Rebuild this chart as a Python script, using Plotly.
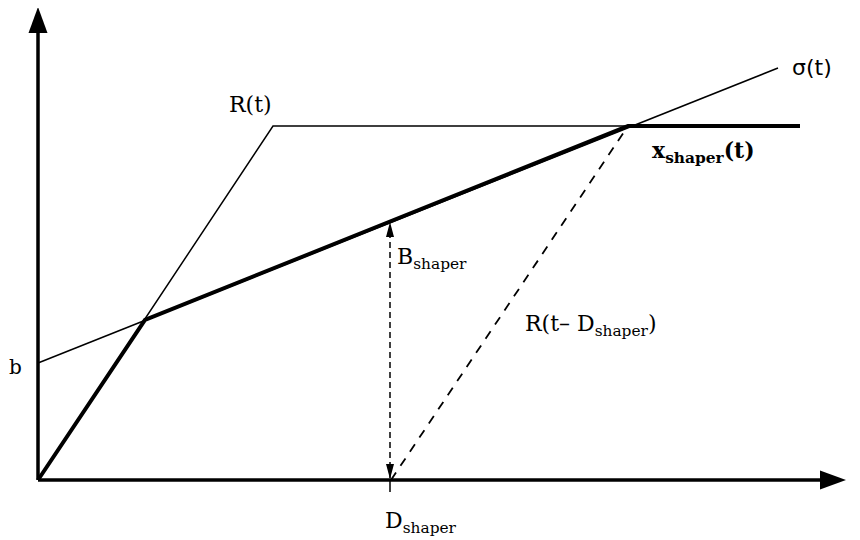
import plotly.graph_objects as go

# Curves of the shaper diagram (t on x, amount on y)
rate_t = [0, 235, 762]
rate_y = [0, 354, 354]
sigma_t = [0, 740]
sigma_y = [117, 412]
shaper_t = [0, 107, 590, 762]
shaper_y = [0, 160, 354, 354]
delayed_t = [353, 590]
delayed_y = [0, 354]
d_shaper = 352
b_top = 258
axis_t_end = 808
axis_y_end = 473

SERIF = "DejaVu Serif"


def head(tip_x, tip_y, dx, dy, length, width):
    # filled triangle pointing along (dx, dy)
    bx, by = tip_x - dx * length, tip_y - dy * length
    px, py = -dy * width / 2, dx * width / 2
    return dict(type="path", xref="x", yref="y", fillcolor="black",
                line=dict(color="black", width=0),
                path=f"M{tip_x},{tip_y} L{bx + px},{by + py} L{bx - px},{by - py} Z")


fig = go.Figure()

# axes
fig.add_trace(go.Scatter(x=[0, 0], y=[0, axis_y_end - 26], mode="lines",
                         line=dict(color="black", width=3.5), hoverinfo="skip"))
fig.add_trace(go.Scatter(x=[0, axis_t_end - 26], y=[0, 0], mode="lines",
                         line=dict(color="black", width=3.5), hoverinfo="skip"))

fig.add_trace(go.Scatter(x=rate_t, y=rate_y, mode="lines",
                         line=dict(color="black", width=1.5)))
fig.add_trace(go.Scatter(x=sigma_t, y=sigma_y, mode="lines",
                         line=dict(color="black", width=1.5)))
fig.add_trace(go.Scatter(x=shaper_t, y=shaper_y, mode="lines",
                         line=dict(color="black", width=4)))
fig.add_trace(go.Scatter(x=delayed_t, y=delayed_y, mode="lines",
                         line=dict(color="black", width=1.8, dash="9px,8px")))
# B_shaper dashed double arrow
fig.add_trace(go.Scatter(x=[d_shaper, d_shaper], y=[2, b_top - 4], mode="lines",
                         line=dict(color="black", width=1.5, dash="6px,4px")))
# tick below axis at D_shaper
fig.add_trace(go.Scatter(x=[d_shaper, d_shaper], y=[0, -12], mode="lines",
                         line=dict(color="black", width=1.5)))

shapes = [
    head(0, axis_y_end, 0, 1, 26, 19),
    head(axis_t_end, 0, 1, 0, 26, 19),
    head(d_shaper, b_top, 0, 1, 15, 8),
    head(d_shaper, 1, 0, -1, 15, 8),
]

ann = [
    dict(x=212, y=376, text="R(t)", font=dict(family=SERIF, size=22)),
    dict(x=774, y=413, text="σ(t)", font=dict(family="DejaVu Sans", size=22)),
    dict(x=665, y=328, text="<b>x<sub>shaper</sub>(t)</b>", font=dict(family=SERIF, size=22)),
    dict(x=357, y=222, text="B<sub>shaper</sub>", xanchor="left", font=dict(family=SERIF, size=22)),
    dict(x=485, y=155, text="R(t– D<sub>shaper</sub>)", xanchor="left", font=dict(family=SERIF, size=22)),
    dict(x=345, y=-42, text="D<sub>shaper</sub>", xanchor="left", font=dict(family=SERIF, size=22)),
    dict(x=-14, y=113, text="b", xanchor="right", font=dict(family=SERIF, size=20)),
    dict(x=815, y=-31, text="t", xanchor="left", font=dict(family="DejaVu Sans", size=20)),
]
for a in ann:
    a.update(showarrow=False, xref="x", yref="y")
    a["font"]["color"] = "black"

# the page body has an 8px margin, so the figure starts 8px in from the window edge
fig.update_layout(
    width=860, height=532,
    margin=dict(l=0, r=0, t=0, b=0),
    paper_bgcolor="white", plot_bgcolor="white",
    showlegend=False,
    xaxis=dict(range=[-30, 830], visible=False, fixedrange=True),
    yaxis=dict(range=[-60, 472], visible=False, fixedrange=True),
    shapes=shapes,
    annotations=ann,
)

fig.write_html("out.html")
